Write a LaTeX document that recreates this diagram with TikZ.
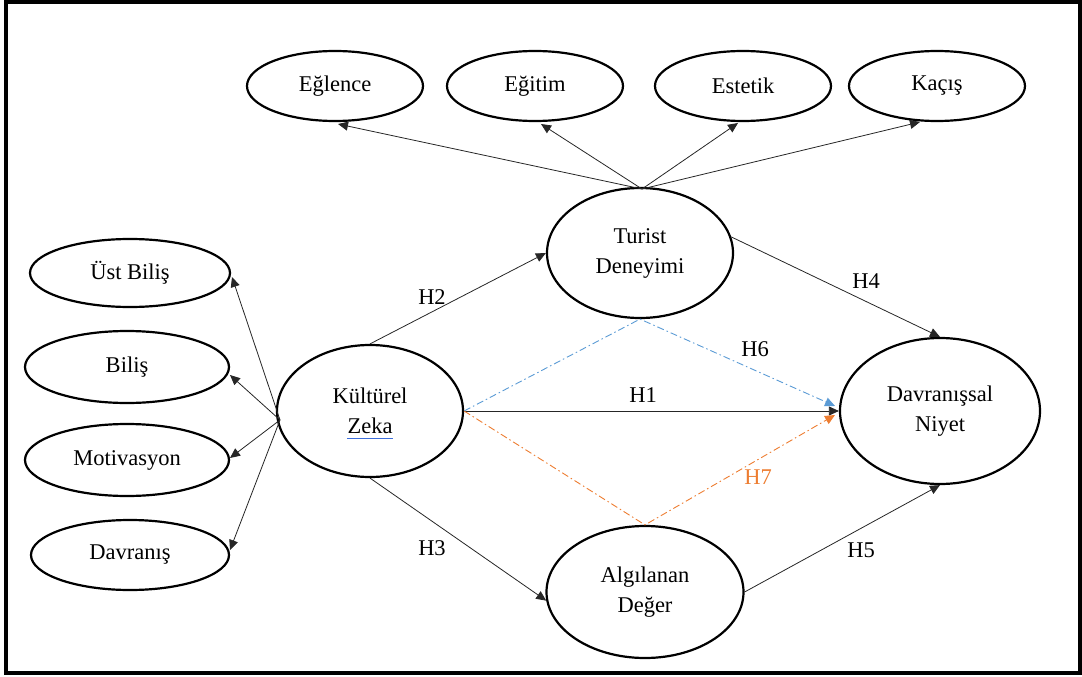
\documentclass[tikz,border=0pt]{standalone}
\usepackage{fontspec}
\setmainfont{Liberation Serif}
\usetikzlibrary{shapes.geometric,arrows.meta}
\definecolor{medblue}{RGB}{91,155,213}
\definecolor{medorange}{RGB}{237,125,49}
\definecolor{markblue}{RGB}{60,110,220}
\newcommand{\diagfont}{\fontsize{22.5}{30}\selectfont}
\begin{document}
\begin{tikzpicture}[x=1pt,y=-1pt,
  ell/.style={draw, ellipse, line width=2.2pt, inner sep=0pt, align=center, font=\diagfont},
  arr/.style={draw=black!85, line width=0.8pt, -{Triangle[length=10pt,width=9pt]}},
  lab/.style={font=\diagfont, inner sep=0pt},
  dashdot/.style={line width=0.9pt, dash pattern=on 7pt off 3pt on 1.5pt off 3pt},
  med/.style={dashdot, -{Triangle[length=10pt,width=9pt]}}]
  \useasboundingbox (0,0) rectangle (1082,677);
  % outer frame
  \draw[line width=4pt] (6,1.8) rectangle (1079.5,672.5);

  % experience dimensions
  \node[ell, minimum width=176pt, minimum height=70pt] (egl) at (335,86) {Eğlence};
  \node[ell, minimum width=176pt, minimum height=70pt] (egt) at (535,86) {Eğitim};
  \node[ell, minimum width=176pt, minimum height=70pt] (est) at (743,86) {Estetik};
  \node[ell, minimum width=176pt, minimum height=70pt] (kac) at (937,86) {Kaçış};

  % cultural intelligence dimensions
  \node[ell, minimum width=200pt, minimum height=68pt] (ust) at (130,273) {Üst Biliş};
  \node[ell, minimum width=204pt, minimum height=72pt] (bil) at (127,367) {Biliş};
  \node[ell, minimum width=204pt, minimum height=72pt] (mot) at (127,460) {Motivasyon};
  \node[ell, minimum width=198pt, minimum height=70pt] (dav) at (130,555) {Davranış};

  % constructs
  \node[ell, minimum width=186pt, minimum height=132pt] (kz) at (370,411) {Kültürel\\Zeka};
  \node[ell, minimum width=186pt, minimum height=130pt] (td) at (640,253) {Turist\\Deneyimi};
  \node[ell, minimum width=197pt, minimum height=132pt] (ad) at (645,592) {Algılanan\\Değer};
  \node[ell, minimum width=200pt, minimum height=146pt] (dn) at (940,411) {Davranışsal\\Niyet};

  % underline mark below Zeka
  \draw[markblue, line width=0.7pt] (347,438) -- (393,438);

  % fan-out points
  \coordinate (kzl) at (280,420);
  \coordinate (tdt) at (642,189);

  \draw[arr] (tdt) -- (338,124);
  \draw[arr] (tdt) -- (541,124);
  \draw[arr] (tdt) -- (738,123);
  \draw[arr] (tdt) -- (920,122);

  \draw[arr] (kzl) -- (232,277);
  \draw[arr] (kzl) -- (230,375);
  \draw[arr] (kzl) -- (230,458);
  \draw[arr] (kzl) -- (230,550);

  % structural paths
  \draw[arr] (kz.north) -- (td.west);
  \draw[arr] (kz.south) -- (ad.185);
  \draw[arr] (td.10) -- (dn.north);
  \draw[arr] (ad.east) -- (dn.south);
  \draw[arr] (kz.east) -- (dn.west);

  % mediation paths
  \draw[med, medblue] (kz.east) -- (td.south) -- (835,406);
  \draw[med, medorange] (kz.east) -- (ad.north) -- (835,415);

  % path labels
  \node[lab] (h1) at (643,395) {H1};
  \node[lab] (h2) at (432,297) {H2};
  \node[lab] (h3) at (432,548) {H3};
  \node[lab] (h4) at (866,281) {H4};
  \node[lab] (h5) at (861,550) {H5};
  \node[lab] (h6) at (755,349) {H6};
  \node[lab, text=medorange] (h7) at (758,477) {H7};
\end{tikzpicture}
\end{document}
